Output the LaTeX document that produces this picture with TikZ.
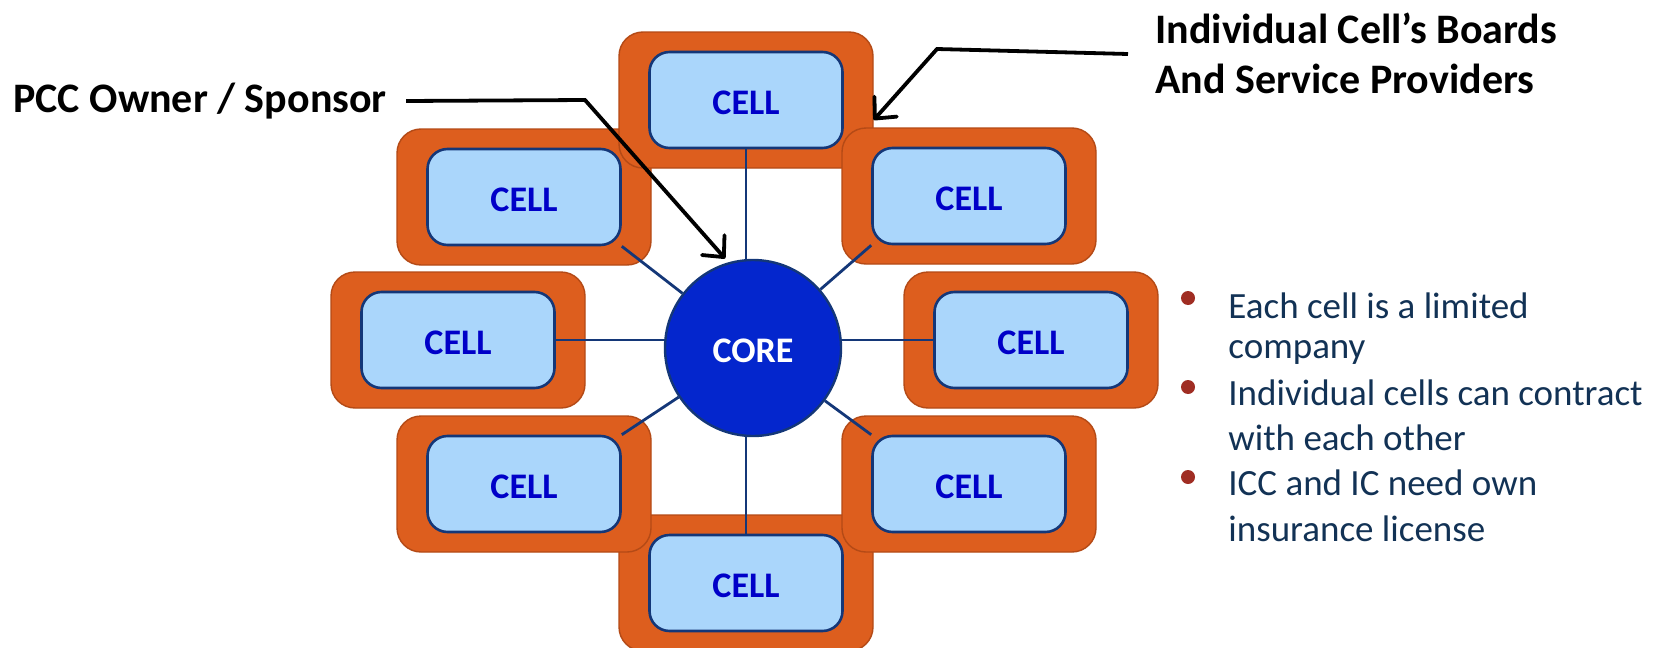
\documentclass[tikz,border=0pt]{standalone}
\usepackage{fontspec}
\setmainfont{Carlito}
\usetikzlibrary{arrows.meta}
\definecolor{boardorange}{RGB}{221,94,30}
\definecolor{boardline}{RGB}{180,74,22}
\definecolor{cellblue}{RGB}{170,214,251}
\definecolor{navyline}{RGB}{20,55,120}
\definecolor{celltext}{RGB}{0,0,200}
\definecolor{corefill}{RGB}{4,38,205}
\definecolor{notetext}{RGB}{18,50,85}
\definecolor{dotred}{RGB}{160,45,35}
\tikzset{
  board/.style={draw=boardline, line width=0.7pt, fill=boardorange, rounded corners=12pt,
    minimum width=127pt, minimum height=68pt, inner sep=0pt},
  cell/.style={draw=navyline, line width=1.3pt, fill=cellblue, rounded corners=10pt,
    minimum width=96.5pt, minimum height=48pt, inner sep=0pt, text=celltext,
    text height=14.5pt, text depth=0pt, font=\bfseries\fontsize{18}{20}\selectfont},
  link/.style={navyline, line width=1.4pt},
  callout/.style={black, line width=1.9pt, -{Straight Barb[length=8pt,width=15pt,round]}},
  heading/.style={inner sep=0pt, font=\bfseries\fontsize{21}{25}\selectfont},
  note/.style={inner sep=0pt, anchor=base west, text=notetext, font=\fontsize{18.5}{22}\selectfont},
  dot/.style={circle, fill=dotred, minimum size=7pt, inner sep=0pt}
}
\begin{document}
\begin{tikzpicture}[x=0.5pt, y=-0.5pt]
\useasboundingbox (0,0) rectangle (1666,648);
\foreach \n/\px/\py in {b/746/583, ul/524/197, t/746/100, ur/969/196, ml/458/340, mr/1031/340, ll/524/484, lr/969/484}{
  \node[board] (o\n) at (\px,\py) {};
  \node[cell] (\n) at (\px,\py) {CELL};
}
\node[circle, draw=navyline, line width=1.2pt, fill=corefill, minimum size=88pt, inner sep=0pt,
  text=white, text height=14.5pt, text depth=0pt, font=\bfseries\fontsize{18}{20}\selectfont] (core) at (753,348) {CORE};
\draw[link] (t.south) -- (t.south |- core.north);
\draw[link] (b.north) -- (b.north |- core.south);
\draw[link] (ml.east) -- (ml.east -| core.west);
\draw[link] (mr.west) -- (mr.west -| core.east);
\draw[link] (ul.south east) -- (core);
\draw[link] (ur.south west) -- (core);
\draw[link] (ll.north east) -- (core);
\draw[link] (lr.north west) -- (core);

\node[heading, anchor=west] (pcc) at (13,101) {PCC Owner / Sponsor};
\coordinate (pccbend) at (585,100);
\draw[callout, shorten >=2.5pt] ([xshift=9.5pt]pcc.east) -- (pccbend) -- (core.106);

\node[heading, anchor=west, align=left] (boards) at (1155,53) {Individual Cell’s Boards\\And Service Providers};
\coordinate (boardsbend) at (937,49);
\draw[callout] ([xshift=-13.5pt,yshift=-0.5pt]boards.west) -- (boardsbend) -- ([yshift=-10pt]ot.east);

\node[dot] (d1) at (1188,298) {};
\node[dot] (d2) at (1188,387) {};
\node[dot] (d3) at (1188,477) {};
\node[note] (n1) at (1228,318) {Each cell is a limited};
\node[note] (n2) at (1228,358) {company};
\node[note] (n3) at (1228,405) {Individual cells can contract};
\node[note] (n4) at (1228,450) {with each other};
\node[note] (n5) at (1228,495) {ICC and IC need own};
\node[note] (n6) at (1228,541) {insurance license};
\end{tikzpicture}
\end{document}
